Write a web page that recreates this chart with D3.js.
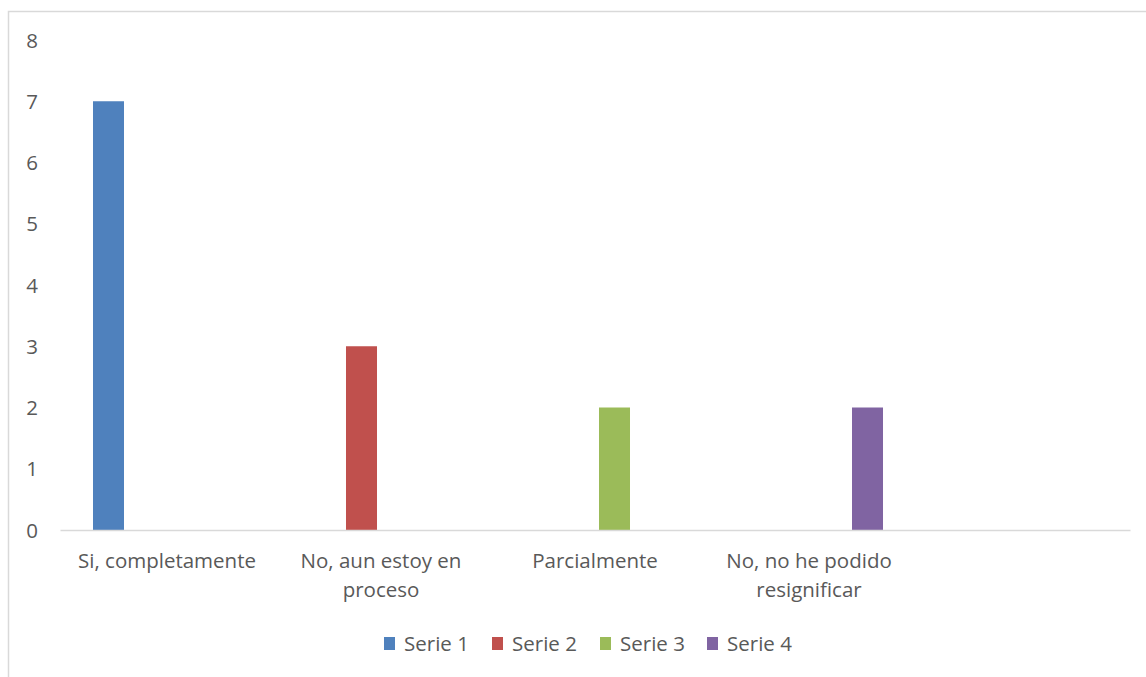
<!DOCTYPE html>
<html>
<head>
<meta charset="utf-8">
<script src="https://cdn.jsdelivr.net/npm/d3@7"></script>
<style>
  html, body { margin: 0; padding: 0; background: #fff; }
  svg { display: block; }
  text { font-family: "Open Sans", "Noto Sans", sans-serif; fill: #595959; }
</style>
</head>
<body>
<svg id="chart" width="1146" height="677"></svg>
<script>
// Categories on the x axis (the last slot is left empty)
const categories = [
  ["Si, completamente"],
  ["No, aun estoy en", "proceso"],
  ["Parcialmente"],
  ["No, no he podido", "resignificar"],
  [""]
];
const seriesNames = ["Serie 1", "Serie 2", "Serie 3", "Serie 4"];
const serie1 = [7, null, null, null, null];
const serie2 = [null, 3, null, null, null];
const serie3 = [null, null, 2, null, null];
const serie4 = [null, null, null, 2, null];
const seriesValues = [serie1, serie2, serie3, serie4];
const yTicks = [0, 1, 2, 3, 4, 5, 6, 7, 8];
const colors = ["#4f81bd", "#c0504d", "#9bbb59", "#8064a2"];

const FONT_SIZE = 20.5;
const svg = d3.select("#chart");

// Chart area frame
svg.append("rect")
  .attr("x", 8.5).attr("y", 11.5)
  .attr("width", 1146).attr("height", 700)
  .attr("fill", "none").attr("stroke", "#d9d9d9").attr("stroke-width", 1.5);

const plot = { left: 60, right: 1130, top: 40, bottom: 530 };

const x0 = d3.scaleBand()
  .domain(d3.range(categories.length))
  .range([plot.left, plot.right])
  .padding(0);

const x1 = d3.scaleBand()
  .domain(d3.range(seriesNames.length))
  .range([0, x0.bandwidth()])
  .paddingInner(0.205)
  .paddingOuter(0.846);

const y = d3.scaleLinear().domain([0, 8]).range([plot.bottom, plot.top]);

// Y axis labels
const yAxis = d3.axisLeft(y).tickValues(yTicks).tickSize(0).tickPadding(0);
const gy = svg.append("g").attr("transform", "translate(38,0)").call(yAxis);
gy.select(".domain").remove();
gy.selectAll("text")
  .attr("font-size", FONT_SIZE)
  .attr("font-family", "'Open Sans', sans-serif")
  .attr("fill", "#595959")
  .attr("dy", "0.35em");

// Bars
seriesValues.forEach((vals, si) => {
  svg.append("g").selectAll("rect")
    .data(vals.map((v, ci) => ({ v, ci })).filter(d => d.v != null))
    .join("rect")
    .attr("x", d => x0(d.ci) + x1(si))
    .attr("width", x1.bandwidth())
    .attr("y", d => y(d.v))
    .attr("height", d => y(0) - y(d.v))
    .attr("fill", colors[si]);
});

// X axis baseline and category labels
const xAxis = d3.axisBottom(x0).tickSize(0).tickFormat(() => "");
const gx = svg.append("g").attr("transform", `translate(0,${plot.bottom})`).call(xAxis);
gx.select(".domain").attr("stroke", "#d9d9d9").attr("stroke-width", 1.5);

gx.selectAll(".tick").each(function(i) {
  const t = d3.select(this).select("text")
    .attr("y", 0).attr("dy", null)
    .attr("font-size", FONT_SIZE)
    .attr("font-family", "'Open Sans', sans-serif")
    .attr("fill", "#595959")
    .attr("text-anchor", "middle");
  categories[i].forEach((line, li) => {
    t.append("tspan").attr("x", 0).attr("y", 38 + li * 29).text(line);
  });
});

// Legend
const legendX = [384, 492, 600, 707];
const legend = svg.append("g");
seriesNames.forEach((name, i) => {
  const g = legend.append("g").attr("transform", `translate(${legendX[i]},637)`);
  g.append("rect").attr("width", 11).attr("height", 13).attr("fill", colors[i]);
  g.append("text").attr("x", 20).attr("y", 6.5).attr("dy", "0.35em")
    .attr("font-size", FONT_SIZE).text(name);
});
</script>
</body>
</html>
